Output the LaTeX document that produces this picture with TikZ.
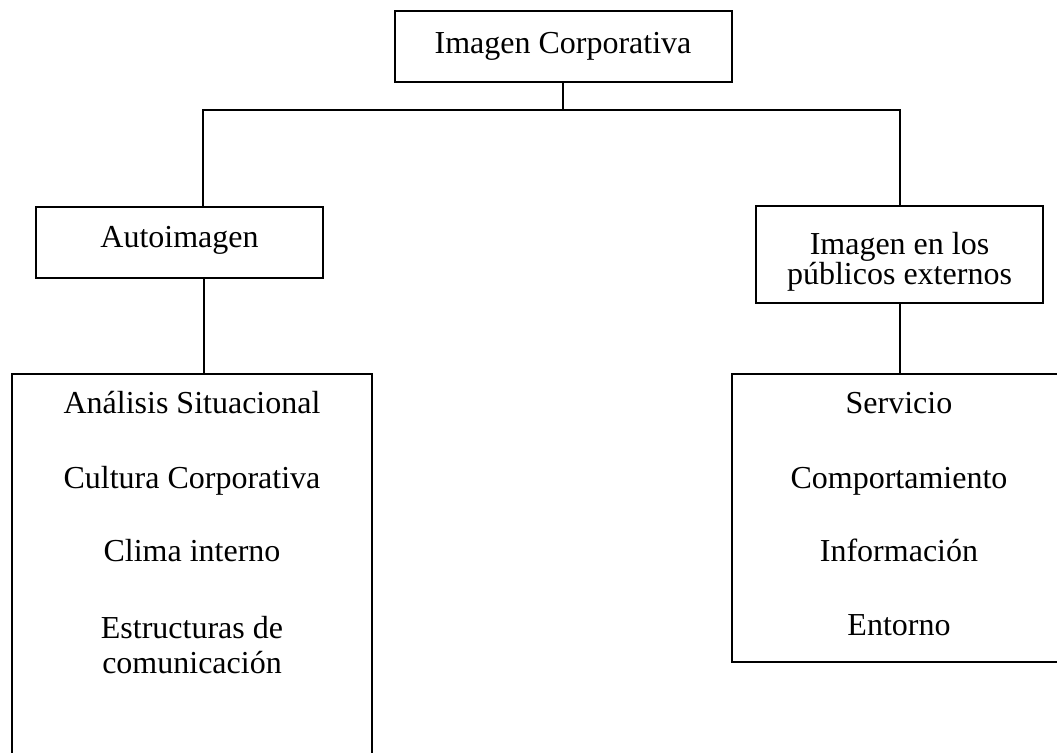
\documentclass[tikz,border=0pt]{standalone}
\usepackage{fontspec}
\setmainfont{Liberation Serif}
\begin{document}
\begin{tikzpicture}[x=1pt,y=-1pt,
  box/.style={draw, line width=2pt, inner sep=0pt, align=center,
    font=\fontsize{32}{30}\selectfont},
  item/.style={anchor=base, inner sep=0pt, align=center,
    font=\fontsize{32}{35}\selectfont},
  link/.style={line width=2pt}]
\useasboundingbox (0,0) rectangle (1057,752);
\clip (0,0) rectangle (1057,752);

% boxes of the hierarchy
\node[box, minimum width=337pt, minimum height=71pt,
      text height=21.5pt, text depth=8.5pt] (top) at (563,46.5) {Imagen Corporativa};
\node[box, minimum width=287pt, minimum height=71pt,
      text height=21.5pt, text depth=12.5pt] (auto) at (179.5,242.5) {Autoimagen};
\node[box, minimum width=287pt, minimum height=97pt] (ext) at (899.5,254.5) {};
\node[box, minimum width=360pt, minimum height=452pt] (inner) at (192,600) {};
\node[box, minimum width=348pt, minimum height=288pt] (outer) at (906,518) {};

% texts
\node[inner sep=0pt, anchor=north, align=center, font=\fontsize{32}{30}\selectfont]
  (extlabel) at (899.5,232.1) {Imagen en los\\públicos externos};

\node[item] (i1) at (192,413.3) {Análisis Situacional};
\node[item] (i2) at (192,488.3) {Cultura Corporativa};
\node[item] (i3) at (192,561.7) {Clima interno};
\node[item, anchor=north] (i4) at (192,616.1) {Estructuras de\\comunicación};

\node[item] (e1) at (899,413.3) {Servicio};
\node[item] (e2) at (899,488.3) {Comportamiento};
\node[item] (e3) at (899,561.7) {Información};
\node[item] (e4) at (899,635) {Entorno};

% connectors
\coordinate (jl) at (203,110);
\coordinate (jr) at (900,110);
\coordinate (dl) at (204,0);
\draw[link] (top.south) -- (top.south |- jl);
\draw[link] (jl |- auto.north) -- (jl) -- (jr) -- (jr |- ext.north);
\draw[link] (auto.south -| dl) -- (inner.north -| dl);
\draw[link] (ext.south -| jr) -- (outer.north -| jr);
\end{tikzpicture}
\end{document}
